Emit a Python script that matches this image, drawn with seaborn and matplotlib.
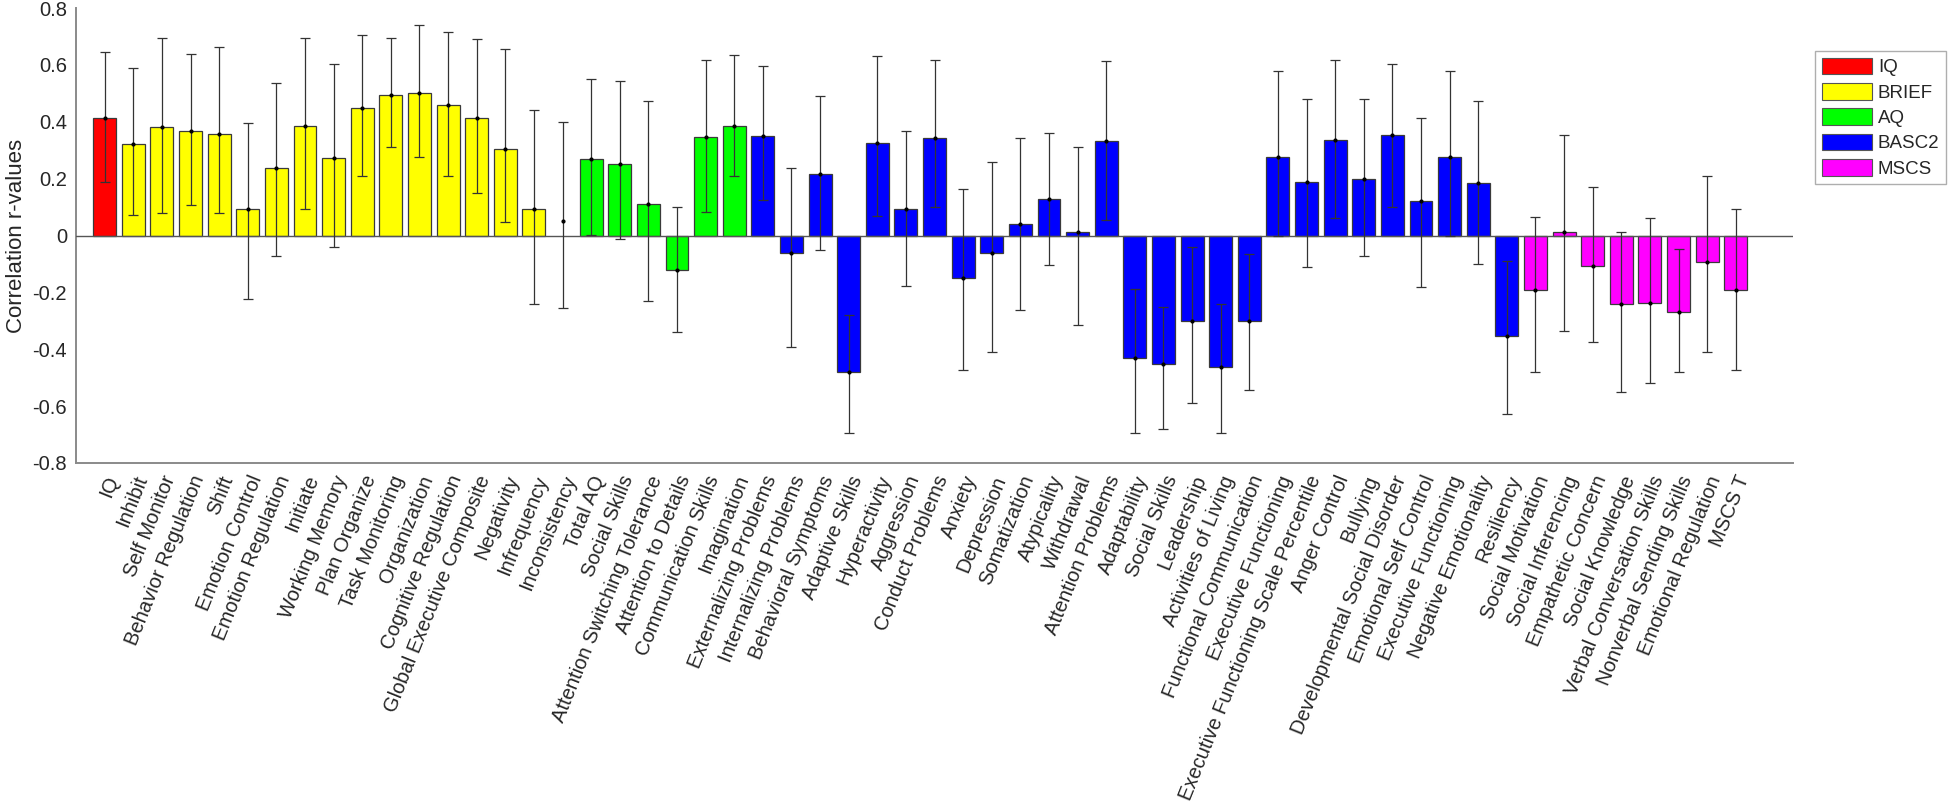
import matplotlib
matplotlib.use("Agg")
import matplotlib.pyplot as plt
from matplotlib.patches import Patch
from matplotlib import ticker
import numpy as np
import pandas as pd
import seaborn as sns

# values (r, lower / upper end of the error bar)
iq_labels = ['IQ']
iq_r = [0.413]
iq_lo = [0.190]
iq_hi = [0.645]

brief_labels = ['Inhibit', 'Self Monitor', 'Behavior Regulation', 'Shift', 'Emotion Control',
                'Emotion Regulation', 'Initiate', 'Working Memory', 'Plan Organize',
                'Task Monitoring', 'Organization', 'Cognitive Regulation',
                'Global Executive Composite', 'Negativity', 'Infrequency', 'Inconsistency']
brief_r = [0.323, 0.381, 0.368, 0.357, 0.093, 0.237, 0.387, 0.274, 0.447, 0.493, 0.500,
           0.460, 0.415, 0.303, 0.093, 0.052]
brief_lo = [0.073, 0.079, 0.106, 0.079, -0.223, -0.072, 0.093, -0.039, 0.211, 0.310, 0.278,
            0.211, 0.151, 0.046, -0.242, -0.256]
brief_hi = [0.591, 0.694, 0.638, 0.663, 0.395, 0.538, 0.694, 0.604, 0.705, 0.694, 0.740,
            0.716, 0.690, 0.657, 0.441, 0.400]

aq_labels = ['Total AQ', 'Social Skills', 'Attention Switching Tolerance', 'Attention to Details',
             'Communication Skills', 'Imagination']
aq_r = [0.270, 0.251, 0.110, -0.121, 0.347, 0.387]
aq_lo = [0.002, -0.013, -0.230, -0.340, 0.084, 0.210]
aq_hi = [0.551, 0.544, 0.474, 0.100, 0.617, 0.635]

basc_labels = ['Externalizing Problems', 'Internalizing Problems', 'Behavioral Symptoms',
               'Adaptive Skills', 'Hyperactivity', 'Aggression', 'Conduct Problems', 'Anxiety',
               'Depression', 'Somatization', 'Atypicality', 'Withdrawal', 'Attention Problems',
               'Adaptability', 'Social Skills', 'Leadership', 'Activities of Living',
               'Functional Communication', 'Executive Functioning',
               'Executive Functioning Scale Percentile', 'Anger Control', 'Bullying',
               'Developmental Social Disorder', 'Emotional Self Control', 'Executive Functioning',
               'Negative Emotionality', 'Resiliency']
basc_r = [0.350, -0.061, 0.218, -0.479, 0.327, 0.094, 0.343, -0.150, -0.062, 0.040, 0.127,
          0.011, 0.331, -0.429, -0.452, -0.301, -0.462, -0.301, 0.276, 0.190, 0.335, 0.198,
          0.355, 0.121, 0.276, 0.184, -0.352]
basc_lo = [0.124, -0.393, -0.052, -0.695, 0.067, -0.176, 0.102, -0.474, -0.408, -0.262, -0.104,
           -0.314, 0.055, -0.694, -0.681, -0.588, -0.694, -0.543, 0.000, -0.111, 0.061, -0.072,
           0.102, -0.182, 0.000, -0.100, -0.628]
basc_hi = [0.597, 0.239, 0.491, -0.279, 0.630, 0.368, 0.617, 0.164, 0.257, 0.343, 0.361,
           0.311, 0.615, -0.189, -0.253, -0.040, -0.242, -0.065, 0.577, 0.480, 0.617, 0.480,
           0.605, 0.414, 0.577, 0.474, -0.089]

mscs_labels = ['Social Motivation', 'Social Inferencing', 'Empathetic Concern', 'Social Knowledge',
               'Verbal Conversation Skills', 'Nonverbal Sending Skills', 'Emotional Regulation',
               'MSCS T']
mscs_r = [-0.191, 0.013, -0.107, -0.242, -0.237, -0.270, -0.093, -0.191]
mscs_lo = [-0.479, -0.334, -0.373, -0.552, -0.519, -0.479, -0.408, -0.473]
mscs_hi = [0.065, 0.353, 0.170, 0.014, 0.063, -0.047, 0.210, 0.093]

groups = ['IQ', 'BRIEF', 'AQ', 'BASC2', 'MSCS']
group_colors = {'IQ': '#ff0000', 'BRIEF': '#ffff00', 'AQ': '#00ff00',
                'BASC2': '#0000ff', 'MSCS': '#ff00ff'}
no_bar = ['Inconsistency']  # only the error bar is drawn for this one

parts = [(iq_labels, iq_r, iq_lo, iq_hi), (brief_labels, brief_r, brief_lo, brief_hi),
         (aq_labels, aq_r, aq_lo, aq_hi), (basc_labels, basc_r, basc_lo, basc_hi),
         (mscs_labels, mscs_r, mscs_lo, mscs_hi)]
rows = []
for g, (labs, r, lo, hi) in zip(groups, parts):
    for i in range(len(labs)):
        rows.append({'label': labs[i], 'group': g, 'r': r[i], 'lo': lo[i], 'hi': hi[i]})
df = pd.DataFrame(rows)
df['pos'] = np.arange(len(df))
df['bar'] = ~df['label'].isin(no_bar)

sns.set_theme(style='white')
plt.rcParams['font.family'] = ['Liberation Sans', 'DejaVu Sans']
plt.rcParams['text.color'] = '#262626'

fig = plt.figure(figsize=(19.5, 8.09), dpi=100)
ax = fig.add_axes([0.039, 0.4277, 0.8805, 0.5623])

sns.barplot(data=df[df['bar']], x='pos', y='r', hue='group', hue_order=groups,
            palette=group_colors, saturation=1, native_scale=True, dodge=False,
            errorbar=None, edgecolor='#3a3a3a', linewidth=0.9, legend=False, ax=ax, zorder=2)

ax.axhline(0, color='#555555', lw=1.0, zorder=3)
ax.errorbar(df['pos'], df['r'], yerr=[df['r'] - df['lo'], df['hi'] - df['r']],
            fmt='.', color='black', markersize=4, ecolor='#333333', elinewidth=0.9,
            capsize=3.6, capthick=0.9, zorder=4)

ax.set_xlim(-1, 59)
ax.set_ylim(-0.8, 0.8)
ax.yaxis.set_major_locator(ticker.MultipleLocator(0.2))
ax.yaxis.set_major_formatter(ticker.FuncFormatter(lambda v, p: '%g' % round(v, 1)))
ax.set_xticks(df['pos'])
ax.set_xticklabels(df['label'], rotation=68, ha='right', va='top', rotation_mode='anchor')

for s in ['top', 'right']:
    ax.spines[s].set_visible(False)
for s in ['left', 'bottom']:
    ax.spines[s].set_color('#8a8a8a')
    ax.spines[s].set_linewidth(1.4)
ax.tick_params(axis='both', direction='in', length=12, width=1.0, color='#8a8a8a',
               labelsize=14.5, labelcolor='#262626')
ax.tick_params(axis='y', pad=6.5)
ax.tick_params(axis='x', pad=7)
ax.set_xlabel('')
ax.set_ylabel('Correlation r-values', fontsize=16, color='#262626')
ax.yaxis.set_label_coords(-0.0285, 0.5)

handles = [Patch(facecolor=group_colors[g], edgecolor='#555555', linewidth=0.8) for g in groups]
leg = fig.legend(handles, groups, loc='upper right', bbox_to_anchor=(0.998, 0.937),
                 fontsize=13.5, frameon=True, fancybox=False, borderaxespad=0,
                 handlelength=2.7, handleheight=1.0, handletextpad=0.3,
                 labelspacing=0.35, borderpad=0.35)
leg.get_frame().set_edgecolor('#9a9a9a')
leg.get_frame().set_linewidth(1.0)

fig.savefig('out.png', dpi=100)
